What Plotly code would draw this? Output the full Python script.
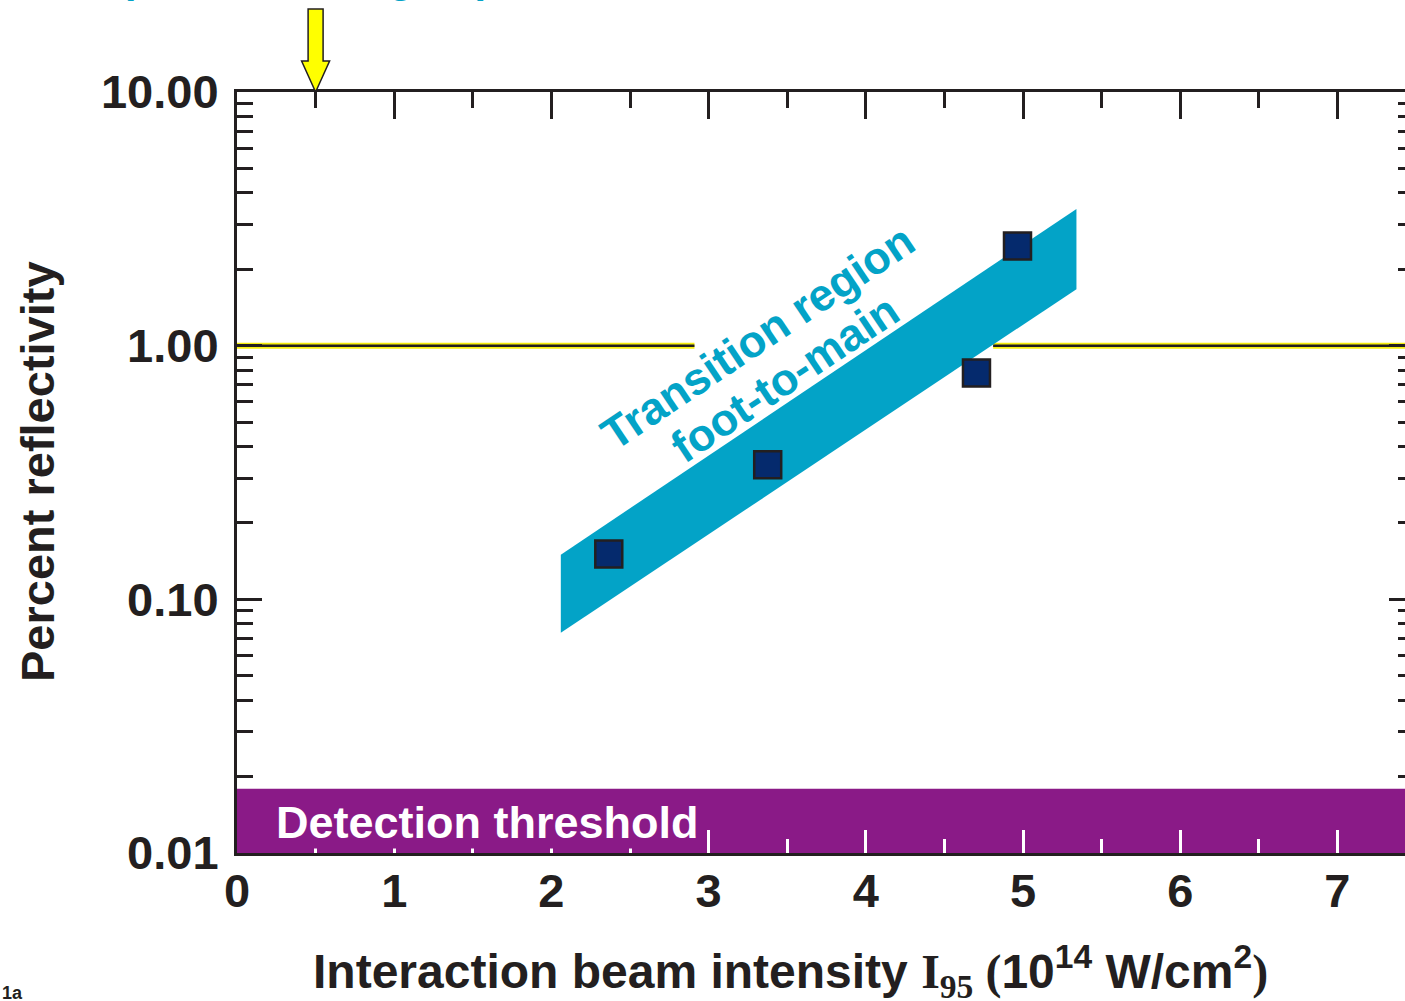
import plotly.graph_objects as go

# ---------------- data ----------------
intensity = [2.365, 3.376, 4.704, 4.965]          # 10^14 W/cm^2
reflectivity = [0.151, 0.339, 0.780, 2.47]         # percent

band_x = [2.06, 2.06, 5.34, 5.34]
band_y = [0.0738, 0.150, 3.46, 1.67]

threshold_x = [0, 7.43, 7.43, 0]
threshold_y = [0.01, 0.01, 0.0179, 0.0179]

ref_line_y = 1.0
ref_line_left_x = [0, 2.91]
ref_line_right_x = [4.81, 7.43]

x_ticks = [0, 1, 2, 3, 4, 5, 6, 7]
x_minor = [0.5, 1.5, 2.5, 3.5, 4.5, 5.5, 6.5]
y_ticks = [0.01, 0.1, 1, 10]
y_ticktext = ["0.01", "0.10", "1.00", "10.00"]
y_minor = [m * d for d in (0.01, 0.1, 1) for m in range(2, 10)]

arrow_x = 0.5
X_RANGE = [0, 7.43]
Y_RANGE = [-2, 1]

INK = "#231f20"
CYAN = "#03a3c7"
PURPLE = "#8a1a87"
NAVY = "#052a6d"
FONT = "Liberation Sans"

fig = go.Figure()

# detection threshold band
fig.add_trace(go.Scatter(x=threshold_x, y=threshold_y, fill="toself", mode="none",
                         fillcolor=PURPLE, hoverinfo="skip", showlegend=False))
# yellow reference line (yellow halo + black core)
for xs in (ref_line_left_x, ref_line_right_x):
    fig.add_trace(go.Scatter(x=xs, y=[ref_line_y, ref_line_y], mode="lines",
                             line=dict(color="#f5ee10", width=6), showlegend=False, hoverinfo="skip"))
    fig.add_trace(go.Scatter(x=xs, y=[ref_line_y, ref_line_y], mode="lines",
                             line=dict(color=INK, width=2.5), showlegend=False, hoverinfo="skip"))
# transition band
fig.add_trace(go.Scatter(x=band_x, y=band_y, fill="toself", mode="none",
                         fillcolor=CYAN, hoverinfo="skip", showlegend=False))
# data points
fig.add_trace(go.Scatter(x=intensity, y=reflectivity, mode="markers",
                         marker=dict(symbol="square", size=27, color=NAVY,
                                     line=dict(color=INK, width=2.5)),
                         showlegend=False))
# dummy traces for overlay axes
fig.add_trace(go.Scatter(x=[None], y=[None], xaxis="x2", yaxis="y", showlegend=False))
fig.add_trace(go.Scatter(x=[None], y=[None], xaxis="x", yaxis="y2", showlegend=False))

tickfont = dict(family=FONT, size=47, color=INK, weight=700)

fig.update_layout(
    width=1405, height=1001,
    margin=dict(l=237, r=0, t=92, b=148),
    paper_bgcolor="white", plot_bgcolor="white",
    xaxis=dict(range=X_RANGE, showgrid=False, zeroline=False,
               showline=True, linecolor=INK, linewidth=3,
               ticks="inside", ticklen=23, tickwidth=3, tickcolor="white",
               tickvals=x_ticks, ticktext=[str(v) for v in x_ticks],
               tickfont=tickfont, ticklabelstandoff=-5,
               minor=dict(tickvals=x_minor, ticks="inside", ticklen=14,
                          tickwidth=3, tickcolor="white", showgrid=False)),
    xaxis2=dict(range=X_RANGE, overlaying="x", side="top", showgrid=False,
                zeroline=False, showline=True, linecolor=INK, linewidth=3,
                ticks="inside", ticklen=27, tickwidth=3, tickcolor=INK,
                tickvals=x_ticks, showticklabels=False,
                minor=dict(tickvals=x_minor, ticks="inside", ticklen=16,
                           tickwidth=3, tickcolor=INK, showgrid=False)),
    yaxis=dict(type="log", range=Y_RANGE, showgrid=False, zeroline=False,
               showline=True, linecolor=INK, linewidth=3,
               ticks="inside", ticklen=25, tickwidth=3, tickcolor=INK,
               tickvals=y_ticks, ticktext=y_ticktext, tickfont=tickfont,
               ticklabelstandoff=6,
               minor=dict(tickvals=y_minor, ticks="inside", ticklen=16,
                          tickwidth=3, tickcolor=INK, showgrid=False)),
    yaxis2=dict(type="log", range=Y_RANGE, overlaying="y", side="right",
                showgrid=False, zeroline=False, showline=False,
                ticks="inside", ticklen=16, tickwidth=3, tickcolor=INK,
                tickvals=y_ticks, showticklabels=False,
                minor=dict(tickvals=y_minor, ticks="inside", ticklen=7,
                           tickwidth=3, tickcolor=INK, showgrid=False)),
)

# arrow at top (pixel-sized, anchored at x=arrow_x on the top edge)
arrow_anchor = (arrow_x - X_RANGE[0]) / (X_RANGE[1] - X_RANGE[0])
fig.add_shape(type="path", xref="paper", yref="paper",
              xsizemode="pixel", ysizemode="pixel",
              xanchor=arrow_anchor, yanchor=1,
              path="M0,0 L-14,31 L-7.5,31 L-7.5,83 L7.5,83 L7.5,31 L14,31 Z",
              fillcolor="#ffff00", line=dict(color=INK, width=1.5), layer="above")

def px_x(p):
    return (p - 237) / 1168

def px_y(p):
    return (853 - p) / 761

# annotations
fig.add_annotation(x=px_x(275), y=px_y(822), xref="paper", yref="paper",
                   xanchor="left", yanchor="middle", showarrow=False,
                   text="Detection threshold", bgcolor=PURPLE, borderpad=0,
                   font=dict(family=FONT, size=45, color="white", weight=700))
fig.add_annotation(x=px_x(757), y=px_y(337), xref="paper", yref="paper",
                   xanchor="center", yanchor="middle",
                   showarrow=False, textangle=-33.8,
                   text="Transition region",
                   font=dict(family=FONT, size=45, color=CYAN, weight=700))
fig.add_annotation(x=px_x(785), y=px_y(379), xref="paper", yref="paper",
                   xanchor="center", yanchor="middle",
                   showarrow=False, textangle=-33.8,
                   text="foot-to-main",
                   font=dict(family=FONT, size=45, color=CYAN, weight=700))
fig.add_annotation(x=px_x(790), y=px_y(971), xref="paper", yref="paper",
                   xanchor="center", yanchor="middle",
                   showarrow=False,
                   text=("Interaction beam intensity "
                         "<span style='font-family:Liberation Serif'>I<sub>95</sub> (</span>10<sup>14</sup> W/cm<sup>2</sup>"
                         "<span style='font-family:Liberation Serif'>)</span>"),
                   font=dict(family=FONT, size=48, color=INK, weight=700))
fig.add_annotation(x=px_x(37), y=px_y(472), xref="paper", yref="paper",
                   xanchor="center", yanchor="middle",
                   showarrow=False, textangle=-90,
                   text="Percent reflectivity",
                   font=dict(family=FONT, size=47, color=INK, weight=700))
fig.add_annotation(x=px_x(1), y=px_y(982), xref="paper", yref="paper",
                   xanchor="left", yanchor="top", showarrow=False,
                   text="1a", borderpad=0,
                   font=dict(family=FONT, size=18, color=INK, weight=700))
fig.add_annotation(x=px_x(118), y=px_y(-22), xref="paper", yref="paper",
                   xanchor="left", yanchor="middle", showarrow=False,
                   text="(Foot-laser region)",
                   font=dict(family=FONT, size=42, color=CYAN, weight=700))

fig.write_html("out.html", config={"displayModeBar": False},
               post_script="document.body.style.margin='0';document.body.style.overflow='hidden';")
